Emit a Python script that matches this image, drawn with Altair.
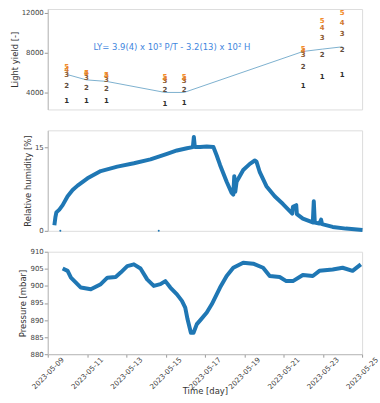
import altair as alt
import pandas as pd

FONT = "DejaVu Sans"
T0 = pd.Timestamp("2023-05-09")

# ---- Light yield panel ----
ly_days = [0.96, 1.97, 2.99, 5.97, 6.94, 13.0, 13.97, 14.99]
ly_ch1 = [3240, 3240, 3240, 2920, 2980, 4660, 5630, 5780]
ly_ch2 = [4690, 4540, 4440, 4300, 4250, 6600, 7800, 8300]
ly_ch3 = [5800, 5500, 5250, 5150, 5150, 7800, 9450, 9900]
ly_ch4 = [6280, 5960, 5650, 5350, 5350, 8200, 10430, 11000]
ly_ch5 = [6540, 5990, 5780, 5550, 5550, 8420, 11120, 11950]
ly_fit = [5850, 5300, 5150, 4050, 4050, 8130, 8360, 8590]
channels = ["1", "2", "3", "4", "5"]
ch_colors = ["#2e2e2e", "#5f4c3d", "#8c5b34", "#cf772e", "#f28b2c"]

annot_day = [6.32]
annot_val = [8600]
annot_text = ["LY= 3.9(4) x 10³ P/T - 3.2(13) x 10² H"]

# ---- Humidity panel (zoomed pixel x -> day, value %) ----
hum_xz = [160, 163, 166, 175, 185, 200, 215, 230, 260, 300, 350, 400, 450, 500, 530, 560,
          578, 581, 584, 600, 620, 640, 650, 660, 680, 695, 700, 703, 706, 710, 730, 750,
          765, 770, 780, 800, 825, 850, 878, 880, 890, 892, 910, 940, 943, 946, 960, 965,
          968, 1000, 1040, 1090]
hum_val = [1.0, 2.4, 3.3, 3.8, 4.6, 6.2, 7.3, 8.1, 9.4, 10.7, 11.5, 12.1, 12.8, 13.8, 14.4, 14.8,
           15.0, 16.8, 15.0, 15.0, 15.1, 15.0, 13.5, 11.8, 8.8, 6.8, 6.5, 9.8, 7.0, 8.8, 10.9, 12.0,
           12.6, 12.4, 10.5, 8.0, 6.2, 4.8, 3.1, 4.3, 4.6, 3.0, 2.2, 1.5, 5.3, 1.5, 1.3, 2.0,
           1.2, 0.7, 0.4, 0.15]
hum_dot_xz = [178, 475]
hum_dot_val = [0.0, 0.0]

# ---- Pressure panel ----
pr_xz = [185, 200, 210, 240, 270, 300, 320, 345, 360, 380, 400, 420, 440, 460, 480, 495,
         510, 530, 545, 555, 562, 572, 580, 590, 600, 620, 635, 660, 680, 700, 730, 760,
         790, 810, 840, 860, 880, 910, 940, 960, 1000, 1030, 1060, 1085]
pr_val = [905.1, 904.4, 902.4, 899.5, 899.0, 900.5, 902.4, 902.6, 903.9, 905.8, 906.3, 905.1,
          901.9, 900.0, 900.5, 901.4, 899.5, 897.5, 895.6, 893.6, 890.2, 886.3, 886.3, 888.8,
          889.9, 892.2, 894.6, 899.5, 902.9, 905.3, 906.8, 906.5, 905.3, 902.9, 902.6, 901.4,
          901.4, 903.2, 902.9, 904.4, 904.8, 905.3, 904.4, 906.3]

tick_dates = ["2023-05-09", "2023-05-11", "2023-05-13", "2023-05-15", "2023-05-17",
              "2023-05-19", "2023-05-21", "2023-05-23", "2023-05-25"]


def to_time(days):
    return [T0 + pd.to_timedelta(d, unit="D") for d in days]


def xz_to_day(xz):
    return [(v - 140) / 59.3 for v in xz]


ly_rows = []
for i, d in enumerate(ly_days):
    for ch, arr in zip(channels, [ly_ch1, ly_ch2, ly_ch3, ly_ch4, ly_ch5]):
        ly_rows.append({"t": T0 + pd.to_timedelta(d, unit="D"), "v": arr[i], "ch": ch})
ly_df = pd.DataFrame(ly_rows)
fit_df = pd.DataFrame({"t": to_time(ly_days), "v": ly_fit})
ann_df = pd.DataFrame({"t": to_time(annot_day), "v": annot_val, "txt": annot_text})
hum_df = pd.DataFrame({"t": to_time(xz_to_day(hum_xz)), "v": hum_val})
hdot_df = pd.DataFrame({"t": to_time(xz_to_day(hum_dot_xz)), "v": hum_dot_val})
pr_df = pd.DataFrame({"t": to_time(xz_to_day(pr_xz)), "v": pr_val})

xdom = [alt.DateTime(year=2023, month=5, date=9), alt.DateTime(year=2023, month=5, date=25)]
xscale = alt.Scale(domain=xdom, nice=False)
tick_vals = [alt.DateTime(year=2023, month=5, date=int(s[-2:])) for s in tick_dates]

W = 316

yax = dict(grid=False, tickSize=3.5, tickColor="#999", domainColor="#bbb", labelColor="#444",
           labelFontSize=7, titleFontSize=8.5, titleColor="#333", titleFontWeight="normal",
           labelFont=FONT, titleFont=FONT, titlePadding=2, labelPadding=1, format="d")

x_none = alt.X("t:T", scale=xscale, axis=None)

fit_line = alt.Chart(fit_df).mark_line(color="#7db0cf", strokeWidth=1).encode(
    x=x_none,
    y=alt.Y("v:Q", scale=alt.Scale(domain=[2356, 12354], nice=False, zero=False),
            axis=alt.Axis(title="Light yield [-]", values=[4000, 6000, 8000, 10000, 12000], **yax)),
)
digits = alt.Chart(ly_df).mark_text(fontSize=7, fontWeight="bold", font=FONT).encode(
    x=x_none,
    y="v:Q",
    text="ch:N",
    color=alt.Color("ch:N", scale=alt.Scale(domain=channels, range=ch_colors), legend=None),
)
annot = alt.Chart(ann_df).mark_text(fontSize=8.5, font=FONT, color="#3f86de", align="center").encode(
    x=x_none, y="v:Q", text="txt:N"
)
top = alt.layer(fit_line, digits, annot).properties(width=W, height=101)

hum_line = alt.Chart(hum_df).mark_line(color="#1f77b4", strokeWidth=4, strokeJoin="round").encode(
    x=x_none,
    y=alt.Y("v:Q", scale=alt.Scale(domain=[0, 18], nice=False),
            axis=alt.Axis(title="Relative humidity [%]", values=[0, 5, 10, 15], **yax)),
)
hum_dots = alt.Chart(hdot_df).mark_point(filled=True, size=4, color="#1f77b4", opacity=1).encode(
    x=x_none, y="v:Q"
)
mid = alt.layer(hum_line, hum_dots).properties(width=W, height=101)

bottom = alt.Chart(pr_df).mark_line(color="#1f77b4", strokeWidth=4, strokeJoin="round").encode(
    x=alt.X("t:T", scale=xscale,
            axis=alt.Axis(title="Time [day]", values=tick_vals, format="%Y-%m-%d", labelAngle=-45,
                          labelAlign="center", labelBaseline="middle", grid=False, tickSize=3,
                          tickColor="#999", domainColor="#bbb", labelColor="#444", labelFontSize=7.2,
                          titleFontSize=8.5, titleColor="#333", titleFontWeight="normal",
                          labelFont=FONT, titleFont=FONT, labelPadding=16, titleY=33,
                          labelBound=False, labelFlush=False, labelOverlap=False)),
    y=alt.Y("v:Q", scale=alt.Scale(domain=[880, 910], nice=False, zero=False),
            axis=alt.Axis(title="Pressure [mbar]", values=[880, 885, 890, 895, 900, 905, 910], **yax)),
).properties(width=W, height=103)

chart = alt.vconcat(top, mid, bottom, spacing=21, bounds="flush").properties(
    padding={"left": 9, "top": 7, "right": 0, "bottom": 1}
).configure_view(stroke=None).configure(background="white")

chart.save("out.html", embed_options={"renderer": "svg", "actions": False})
